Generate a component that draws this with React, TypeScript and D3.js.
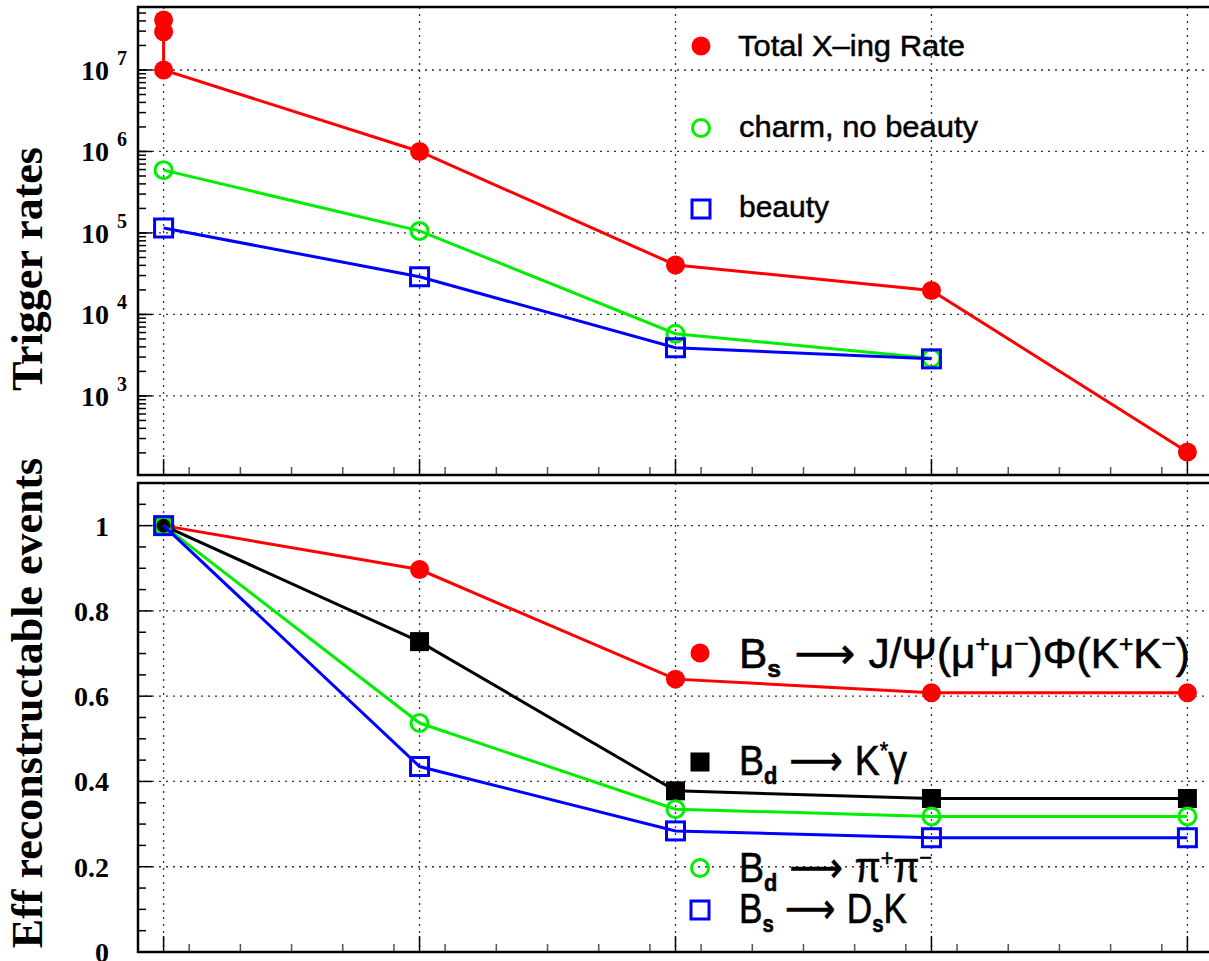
import React from "react";
import * as d3 from "d3";

// x positions of the trigger levels
const levels = [0, 1, 2, 3, 4];

// top panel: trigger rates (Hz)
const totalX = [0, 0, 0, 1, 2, 3, 4];
const totalRate = [4.1e7, 2.95e7, 1e7, 1e6, 4.05e4, 1.97e4, 205];
const charmX = [0, 1, 2, 3];
const charmRate = [5.9e5, 1.06e5, 5.8e3, 2.9e3];
const beautyX = [0, 1, 2, 3];
const beautyRate = [1.15e5, 2.9e4, 3.9e3, 2.85e3];

// bottom panel: efficiency for reconstructable events
const effJpsiPhi = [1, 0.897, 0.64, 0.608, 0.608];
const effKstarGamma = [1, 0.728, 0.378, 0.36, 0.36];
const effPiPi = [1, 0.537, 0.335, 0.318, 0.318];
const effDsK = [1, 0.435, 0.284, 0.268, 0.268];

const topDecades = [1e3, 1e4, 1e5, 1e6, 1e7];
const effTicks = [0, 0.2, 0.4, 0.6, 0.8, 1];

const W = 1209, H = 961;
const left = 138, right = 1213;
const top1 = 7, bot1 = 475, top2 = 483, bot2 = 952;

const serif = "'Liberation Serif', 'Times New Roman', serif";
const sans = "'Liberation Sans', Arial, sans-serif";

type Seg = { t: string; sub?: boolean; sup?: boolean; font?: string };

// latex-ish label built from tspans
const Latex = ({ x, y, segs, size, len }: { x: number; y: number; segs: Seg[]; size: number; len?: number }) => {
  let cur = 0;
  return (
    <text x={x} y={y} fontFamily={sans} fontSize={size} fill="#000" stroke="#000" strokeWidth={0.6}
      textLength={len} lengthAdjust={len ? "spacingAndGlyphs" : undefined}>
      {segs.map((s, i) => {
        const target = s.sub ? size * 0.22 : s.sup ? -size * 0.38 : 0;
        const dy = target - cur;
        cur = target;
        return (
          <tspan key={i} dy={dy} fontSize={s.sub || s.sup ? size * 0.58 : size}
            fontWeight={s.sub ? "bold" : undefined} fontFamily={s.font || sans}>
            {s.t}
          </tspan>
        );
      })}
    </text>
  );
};

const Marker = ({ kind, x, y, color }: { kind: string; x: number; y: number; color: string }) => {
  if (kind === "fcircle") return <circle cx={x} cy={y} r={9.5} fill={color} />;
  if (kind === "ocircle") return <circle cx={x} cy={y} r={8.5} fill="none" stroke={color} strokeWidth={3} />;
  if (kind === "fsquare") return <rect x={x - 9.5} y={y - 9.5} width={19} height={19} fill={color} />;
  return <rect x={x - 9} y={y - 9} width={18} height={18} fill="none" stroke={color} strokeWidth={3} />;
};

const App = () => {
  const x = d3.scaleLinear().domain([-0.1, 4.1]).range([left, right]);
  const yLog = d3.scaleLog().domain([107, 5.93e7]).range([bot1, top1]);
  const yEff = d3.scaleLinear().domain([0, 1.1]).range([bot2, top2]);

  const lineXY = d3.line<[number, number]>().x(d => d[0]).y(d => d[1]);

  const topSeries = [
    { xs: totalX, ys: totalRate, color: "#ff0000", kind: "fcircle" },
    { xs: charmX, ys: charmRate, color: "#00ee00", kind: "ocircle" },
    { xs: beautyX, ys: beautyRate, color: "#0000ff", kind: "osquare" },
  ];
  const botSeries = [
    { ys: effJpsiPhi, color: "#ff0000", kind: "fcircle" },
    { ys: effKstarGamma, color: "#000000", kind: "fsquare" },
    { ys: effPiPi, color: "#00ee00", kind: "ocircle" },
    { ys: effDsK, color: "#0000ff", kind: "osquare" },
  ];

  // log minor ticks
  const logMinor: number[] = [];
  for (let e = 2; e <= 7; e++) for (let k = 1; k <= 9; k++) {
    const v = k * Math.pow(10, e);
    if (v >= 107 && v <= 5.93e7) logMinor.push(v);
  }
  const effMinor = d3.range(0, 1.1001, 0.05);
  const xMinor = d3.range(-0.1, 4.1001, 0.2).filter(v => Math.abs(v - Math.round(v)) > 0.01);

  const grid = { stroke: "#333", strokeWidth: 1.3, strokeDasharray: "2 5" };

  const xTicks = (yb: number) => (
    <g stroke="#000" strokeWidth={1.5}>
      {levels.map(v => <line key={"M" + v} x1={x(v)} x2={x(v)} y1={yb} y2={yb - 16} />)}
      {xMinor.map((v, i) => <line key={"m" + i} x1={x(v)} x2={x(v)} y1={yb} y2={yb - 8} stroke="#555" />)}
    </g>
  );

  const legendText = { fontFamily: sans, fontSize: 30, stroke: "#000", strokeWidth: 0.5 };

  return (
    <svg width={W} height={H} style={{ position: "absolute", left: 0, top: 0, background: "#fff" }}>
      {/* top panel */}
      <g>
        {topDecades.map(v => <line key={v} x1={left} x2={right} y1={yLog(v)} y2={yLog(v)} {...grid} />)}
        {levels.map(v => <line key={v} x1={x(v)} x2={x(v)} y1={top1} y2={bot1} {...grid} />)}
        <g stroke="#000" strokeWidth={1.5}>
          {topDecades.map(v => <line key={v} x1={left} x2={left + 14} y1={yLog(v)} y2={yLog(v)} />)}
          {logMinor.map(v => <line key={v} x1={left} x2={left + 8} y1={yLog(v)} y2={yLog(v)} />)}
        </g>
        {xTicks(bot1)}
        {topDecades.map(v => (
          <g key={v} fontFamily={serif} fontWeight="bold" fill="#000">
            <text x={109} y={yLog(v) + 10} fontSize={28} textAnchor="end">10</text>
            <text x={117} y={yLog(v) - 5} fontSize={20}>{Math.round(Math.log10(v))}</text>
          </g>
        ))}
        {topSeries.map((s, i) => (
          <g key={i}>
            <path d={lineXY(s.xs.map((xv, j) => [x(xv), yLog(s.ys[j])] as [number, number])) || ""}
              fill="none" stroke={s.color} strokeWidth={3} />
            {s.xs.map((xv, j) => <Marker key={j} kind={s.kind} x={x(xv)} y={yLog(s.ys[j])} color={s.color} />)}
          </g>
        ))}
        <rect x={left} y={top1} width={right - left} height={bot1 - top1} fill="none" stroke="#000" strokeWidth={2.5} />
        {/* legend */}
        <Marker kind="fcircle" x={701} y={46} color="#ff0000" />
        <text x={738} y={56} {...legendText} textLength={227} lengthAdjust="spacingAndGlyphs">Total X–ing Rate</text>
        <Marker kind="ocircle" x={701} y={128} color="#00ee00" />
        <text x={739} y={137} {...legendText} textLength={239} lengthAdjust="spacingAndGlyphs">charm, no beauty</text>
        <Marker kind="osquare" x={701} y={209} color="#0000ff" />
        <text x={739} y={217} {...legendText}>beauty</text>
        <text transform={`translate(42,269) rotate(-90)`} textAnchor="middle" fontFamily={serif}
          fontWeight="bold" fontSize={44}>Trigger rates</text>
      </g>

      {/* bottom panel */}
      <g>
        {effTicks.filter(v => v > 0).map(v => <line key={v} x1={left} x2={right} y1={yEff(v)} y2={yEff(v)} {...grid} />)}
        {levels.map(v => <line key={v} x1={x(v)} x2={x(v)} y1={top2} y2={bot2} {...grid} />)}
        <g stroke="#000" strokeWidth={1.5}>
          {effMinor.map((v, i) => {
            const major = Math.abs(v * 5 - Math.round(v * 5)) < 0.01;
            return <line key={i} x1={left} x2={left + (major ? 14 : 8)} y1={yEff(v)} y2={yEff(v)} />;
          })}
        </g>
        {xTicks(bot2)}
        {effTicks.map(v => (
          <text key={v} x={109} y={yEff(v) + 10} fontFamily={serif} fontWeight="bold" fontSize={28} textAnchor="end">
            {v === 0 || v === 1 ? String(v) : v.toFixed(1)}
          </text>
        ))}
        {botSeries.map((s, i) => (
          <g key={i}>
            <path d={lineXY(s.ys.map((v, j) => [x(levels[j]), yEff(v)] as [number, number])) || ""}
              fill="none" stroke={s.color} strokeWidth={3} />
            {s.ys.map((v, j) => <Marker key={j} kind={s.kind} x={x(levels[j])} y={yEff(v)} color={s.color} />)}
          </g>
        ))}
        <rect x={left} y={top2} width={right - left} height={bot2 - top2} fill="none" stroke="#000" strokeWidth={2.5} />
        {/* legend */}
        <Marker kind="fcircle" x={700} y={653} color="#ff0000" />
        <Latex x={739} y={668} size={42} len={451} segs={[
          { t: "B" }, { t: "s", sub: true }, { t: " ⟶ ", font: "'DejaVu Sans'" }, { t: "J/Ψ(μ" }, { t: "+", sup: true },
          { t: "μ" }, { t: "−", sup: true }, { t: ")Φ(K" }, { t: "+", sup: true }, { t: "K" }, { t: "−", sup: true }, { t: ")" },
        ]} />
        <Marker kind="fsquare" x={700} y={762} color="#000" />
        <Latex x={739} y={775} size={42} len={168} segs={[
          { t: "B" }, { t: "d", sub: true }, { t: " ⟶ ", font: "'DejaVu Sans'" }, { t: "K" }, { t: "*", sup: true }, { t: "γ" },
        ]} />
        <Marker kind="ocircle" x={700} y={868} color="#00ee00" />
        <Latex x={739} y={882} size={42} len={193} segs={[
          { t: "B" }, { t: "d", sub: true }, { t: " ⟶ ", font: "'DejaVu Sans'" }, { t: "π" }, { t: "+", sup: true },
          { t: "π" }, { t: "−", sup: true },
        ]} />
        <Marker kind="osquare" x={700} y={910} color="#0000ff" />
        <Latex x={739} y={923} size={42} len={168} segs={[
          { t: "B" }, { t: "s", sub: true }, { t: " ⟶ ", font: "'DejaVu Sans'" }, { t: "D" }, { t: "s", sub: true }, { t: "K" },
        ]} />
        <text transform={`translate(42,703) rotate(-90)`} textAnchor="middle" fontFamily={serif}
          fontWeight="bold" fontSize={44}>Eff reconstructable events</text>
      </g>
    </svg>
  );
};

export default App;
